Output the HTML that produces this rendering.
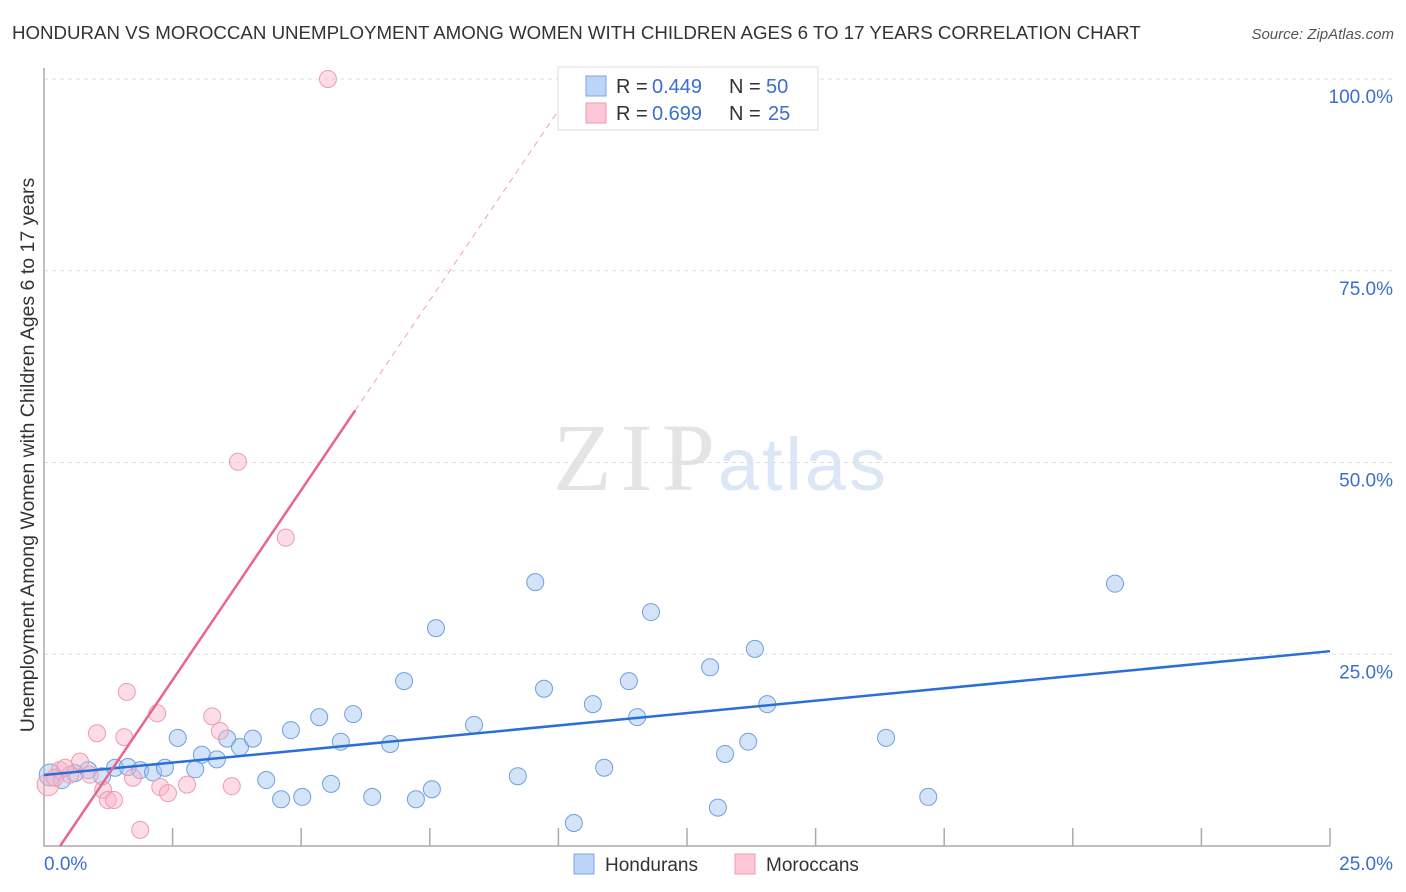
<!DOCTYPE html>
<html><head><meta charset="utf-8">
<style>
body{margin:0;background:#fff;font-family:"Liberation Sans",sans-serif;}
svg{display:block}
</style></head><body>
<svg id="chart" width="1406" height="892" xmlns="http://www.w3.org/2000/svg">
<text x="12" y="39" font-size="18.7" fill="#333">HONDURAN VS MOROCCAN UNEMPLOYMENT AMONG WOMEN WITH CHILDREN AGES 6 TO 17 YEARS CORRELATION CHART</text>
<text x="1394" y="39" font-size="15" fill="#555" text-anchor="end" font-style="italic">Source: ZipAtlas.com</text>
<g>
<text x="553" y="490" font-size="96" fill="#e4e4e4" textLength="162" font-family="Liberation Serif,serif">ZIP</text>
<text x="718" y="490" font-size="74" fill="#dbe6f6" textLength="168">atlas</text>
</g>
<g id="grid"></g>
<g id="axes"></g>
<g id="marks"></g>
<text transform="translate(34,455) rotate(-90)" font-size="19.5" fill="#333" text-anchor="middle">Unemployment Among Women with Children Ages 6 to 17 years</text>
<g>
<rect x="558" y="67" width="260" height="63" fill="#fff" stroke="#ddd"/>
<rect x="586" y="76" width="20" height="20" fill="#bcd4f7" stroke="#7aa6e8"/>
<rect x="586" y="103" width="20" height="20" fill="#fcc8d6" stroke="#f09ab2"/>
<text x="616" y="93" font-size="20" fill="#333">R =</text>
<text x="652" y="93" font-size="20" fill="#3a6fd0">0.449</text>
<text x="729" y="93" font-size="20" fill="#333">N =</text>
<text x="766" y="93" font-size="20" fill="#3a6fd0">50</text>
<text x="616" y="120" font-size="20" fill="#333">R =</text>
<text x="652" y="120" font-size="20" fill="#3a6fd0">0.699</text>
<text x="729" y="120" font-size="20" fill="#333">N =</text>
<text x="768" y="120" font-size="20" fill="#3a6fd0">25</text>
</g>
<g>
<rect x="574" y="854" width="20" height="20" fill="#bcd4f7" stroke="#7aa6e8"/>
<text x="605" y="871" font-size="19" fill="#333">Hondurans</text>
<rect x="735" y="854" width="20" height="20" fill="#fcc8d6" stroke="#f09ab2"/>
<text x="766" y="871" font-size="19" fill="#333">Moroccans</text>
</g>
</svg>
<script>
const yTicks=[25,50,75,100];
const yTickLabels=["25.0%","50.0%","75.0%","100.0%"];
const xTickLabels=["0.0%","25.0%"];
const hondX=[0.12,0.35,0.60,0.86,1.13,1.38,1.63,1.87,2.12,2.35,2.60,2.94,3.07,3.36,3.56,3.81,4.06,4.32,4.61,5.02,4.80,5.35,5.58,5.77,6.01,6.38,6.73,7.00,7.23,7.54,7.62,8.36,9.21,9.55,9.72,10.30,10.67,10.89,11.37,11.53,11.80,12.95,13.10,13.24,13.69,13.82,14.06,16.37,17.19,20.82];
const hondY=[9.26,8.6,9.5,9.9,9.1,10.2,10.3,9.9,9.6,10.2,14.1,10.0,11.9,11.3,14.0,12.9,14.0,8.6,6.1,6.4,15.1,16.8,8.1,13.6,17.2,6.4,13.3,21.5,6.1,7.4,28.4,15.8,9.1,34.4,20.5,3.0,18.5,10.2,21.5,16.8,30.5,23.3,5.0,12.0,13.6,25.7,18.5,14.1,6.4,34.2];
const morX=[0.08,0.31,0.51,0.70,0.89,1.03,1.15,1.24,1.36,1.56,1.61,1.73,1.87,2.20,2.26,2.41,2.78,3.27,3.42,3.65,3.77,4.70,5.52,0.41,0.21];
const morY=[8.0,9.9,9.3,11.0,9.3,14.7,7.3,6.0,6.0,14.2,20.1,8.9,2.1,17.3,7.7,6.9,8.0,16.9,15.0,7.8,50.1,40.2,100,10.2,8.9];
const hondLine=[9.26,25.4];
const morLine=[-3.1,9.9];

const X0=44,X1=1330,Y0=846,Y1=79;
const sx=v=>X0+(v/25)*(X1-X0);
const sy=v=>Y0-(v/100)*(Y0-Y1);
const NS="http://www.w3.org/2000/svg";
function mk(tag,attrs,parent){const e=document.createElementNS(NS,tag);for(const k in attrs)e.setAttribute(k,attrs[k]);parent.appendChild(e);return e;}
const grid=document.getElementById('grid'),axes=document.getElementById('axes'),marks=document.getElementById('marks');
yTicks.forEach((t,i)=>{
 const l=mk('line',{x1:X0,x2:1394,y1:sy(t),y2:sy(t),stroke:'#ddd','stroke-dasharray':'4,4'},grid);
 
 
 const tx=mk('text',{x:1393,y:sy(t)+24,'font-size':19,fill:'#3a6fd0','text-anchor':'end'},axes);
 tx.textContent=yTickLabels[i];
 
 
});
const xa=mk('path',{d:`M${X0},68V${Y0}H${X1}`,fill:'none',stroke:'#aaa','stroke-width':1.5},axes);


for(let i=1;i<=10;i++){const t=mk('line',{x1:sx(i*2.5),x2:sx(i*2.5),y1:Y0,y2:Y0-18,stroke:'#aaa','stroke-width':1.5},axes);
 
 }
[[0,'start',44],[25,'end',1393]].forEach((d,i)=>{const tx=mk('text',{x:d[2],y:870,'font-size':19,fill:'#3a6fd0','text-anchor':d[1]},axes);tx.textContent=xTickLabels[i];
 
 });
hondX.forEach((x,i)=>{const c=mk('circle',{cx:sx(x),cy:sy(hondY[i]),r:i==0?11:8.5,fill:'rgba(160,195,240,0.45)',stroke:'#6f9fe0','stroke-width':1},marks);
 
 });
morX.forEach((x,i)=>{const c=mk('circle',{cx:sx(x),cy:sy(morY[i]),r:i==0?11:8.5,fill:'rgba(248,180,200,0.45)',stroke:'#ef9ab3','stroke-width':1},marks);
 
 });
const bl=mk('line',{x1:sx(0),y1:sy(hondLine[0]),x2:sx(25),y2:sy(hondLine[1]),stroke:'#2a6fd6','stroke-width':2.5},marks);


const mx0=-morLine[0]/morLine[1],mx1=6.05,mx2=(100-morLine[0])/morLine[1];
const pl=mk('line',{x1:sx(mx0),y1:sy(0),x2:sx(mx1),y2:sy(morLine[0]+morLine[1]*mx1),stroke:'#e8658e','stroke-width':2.5},marks);


const pd=mk('line',{x1:sx(mx1),y1:sy(morLine[0]+morLine[1]*mx1),x2:sx(mx2),y2:sy(100),stroke:'#f0a0b8','stroke-width':1,'stroke-dasharray':'6,5'},marks);


</script>
</body></html>
